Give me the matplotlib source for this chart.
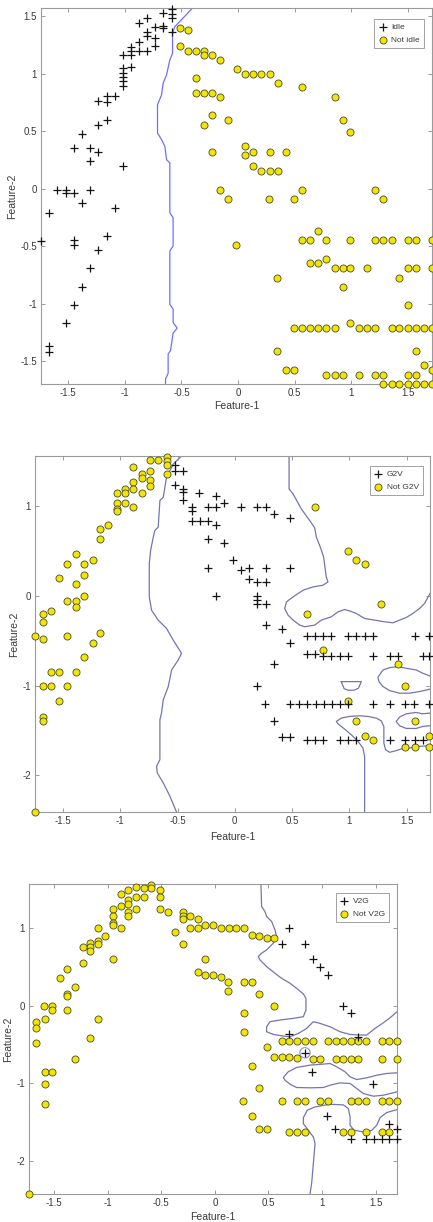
import numpy as np
import matplotlib
matplotlib.use("Agg")
import matplotlib.pyplot as plt

plt.rcParams['font.family'] = ['Liberation Sans', 'DejaVu Sans']

# ---------------- Panel 1 : Idle / Not idle ----------------
idle_pts = [(-0.588,1.558),(-0.588,1.517),(-0.588,1.48),(-0.662,1.523),(-0.809,1.48),(-0.874,1.442),
    (-0.735,1.407),(-0.662,1.413),(-0.662,1.399),(-0.588,1.358),(-0.809,1.358),(-0.809,1.327),(-0.735,1.306),
    (-0.735,1.240),(-0.874,1.277),(-0.947,1.234),(-0.947,1.199),(-0.874,1.199),(-0.809,1.199),(-0.947,1.162),
    (-1.021,1.162),(-0.947,1.061),(-1.021,1.046),(-1.021,1.009),(-1.021,0.968),(-1.021,0.931),(-1.021,0.893),
    (-1.091,0.801),(-1.162,0.801),(-1.162,0.749),(-1.235,0.757),(-1.162,0.598),(-1.235,0.555),(-1.382,0.474),
    (-1.453,0.355),(-1.306,0.355),(-1.235,0.315),(-1.306,0.237),(-1.021,0.194),
    (-1.597,-0.009),(-1.524,-0.009),(-1.524,-0.043),(-1.45,-0.043),(-1.309,-0.009),(-1.379,-0.130),
    (-1.091,-0.173),(-1.668,-0.211),(-1.741,-0.457),(-1.45,-0.451),(-1.45,-0.491),(-1.162,-0.413),
    (-1.235,-0.535),(-1.309,-0.694),(-1.379,-0.853),(-1.45,-1.014),(-1.524,-1.173),(-1.668,-1.367),(-1.668,-1.419)]
not_idle_pts = [(-0.515,1.399),(-0.441,1.379),(-0.515,1.240),(-0.441,1.199),(-0.368,1.199),(-0.300,1.199),
    (-0.300,1.162),(-0.226,1.162),(-0.156,1.118),(-0.012,1.038),(0.062,0.997),(0.132,0.997),(0.206,0.997),
    (0.279,0.997),(0.350,0.916),(0.565,0.879),(0.853,0.795),(0.926,0.598),(0.994,0.494),(-0.368,0.957),
    (-0.368,0.835),(-0.300,0.835),(-0.226,0.835),(-0.156,0.795),(-0.226,0.636),(-0.300,0.555),(-0.085,0.598),
    (0.062,0.373),(0.062,0.295),(0.132,0.315),(0.279,0.315),(0.421,0.315),(-0.226,0.315),(0.132,0.194),
    (0.206,0.150),(0.279,0.150),(0.350,0.150),
    (-0.156,-0.009),(-0.085,-0.090),(0.274,-0.090),(0.491,-0.090),(0.565,-0.009),(1.212,-0.009),(1.285,-0.090),
    (-0.015,-0.491),(0.706,-0.370),
    (0.565,-0.451),(0.638,-0.451),(0.779,-0.451),(0.994,-0.451),(1.212,-0.451),(1.285,-0.451),(1.359,-0.451),
    (1.500,-0.451),(1.574,-0.451),(1.712,-0.451),
    (0.638,-0.650),(0.706,-0.650),(0.779,-0.610),
    (0.853,-0.694),(0.926,-0.694),(0.994,-0.694),(1.141,-0.694),(1.500,-0.694),(1.574,-0.694),(1.712,-0.694),
    (0.344,-0.775),(1.426,-0.775),(0.926,-0.853),(1.500,-1.014),(0.994,-1.173),
    (0.491,-1.214),(0.565,-1.214),(0.638,-1.214),(0.706,-1.214),(0.779,-1.214),(0.853,-1.214),(1.068,-1.214),
    (1.141,-1.214),(1.212,-1.214),(1.359,-1.214),(1.426,-1.214),(1.500,-1.214),(1.574,-1.214),(1.647,-1.214),
    (1.712,-1.214),
    (0.344,-1.416),(1.574,-1.416),(0.421,-1.575),(0.491,-1.575),(1.647,-1.535),(1.712,-1.575),
    (0.779,-1.618),(0.853,-1.618),(0.926,-1.618),(1.068,-1.618),(1.212,-1.618),(1.285,-1.618),(1.500,-1.618),
    (1.574,-1.618),
    (1.285,-1.697),(1.359,-1.697),(1.426,-1.697),(1.500,-1.697),(1.574,-1.697),(1.647,-1.697),(1.712,-1.697)]
idle_boundary = [(-0.397,1.575),(-0.559,1.407),(-0.579,1.350),(-0.579,1.176),(-0.603,1.118),(-0.632,0.988),
    (-0.662,0.916),(-0.676,0.815),(-0.712,0.728),(-0.712,0.483),(-0.676,0.425),(-0.647,0.367),(-0.632,0.251),
    (-0.603,0.223),(-0.603,-0.211),(-0.574,-0.254),(-0.574,-0.5),(-0.603,-0.543),(-0.603,-1.006),(-0.574,-1.049),
    (-0.574,-1.165),(-0.538,-1.214),(-0.574,-1.257),(-0.597,-1.410),(-0.618,-1.439),(-0.618,-1.607),
    (-0.641,-1.656),(-0.641,-1.70)]

# ---------------- Panel 2 : G2V / Not G2V ----------------
g2v_pts = [(-0.523,1.463),(-0.523,1.389),(-0.456,1.389),(-0.523,1.237),(-0.451,1.193),(-0.451,1.156),
    (-0.451,1.070),(-0.311,1.144),(-0.166,1.119),(-0.378,0.989),(-0.378,0.944),(-0.233,0.996),(-0.160,0.996),
    (-0.093,1.033),(0.052,0.996),(0.198,0.996),(0.270,0.996),(0.340,0.915),(0.485,0.870),(-0.378,0.833),
    (-0.305,0.833),(-0.233,0.833),(-0.166,0.796),(-0.233,0.630),(-0.093,0.589),(-0.020,0.396),(0.052,0.293),
    (0.125,0.315),(0.270,0.315),(0.485,0.315),(-0.233,0.315),(0.125,0.193),(0.198,0.156),(0.270,0.156),
    (-0.166,0.000),(0.198,0.000),(0.198,-0.041),(0.198,-0.085),(0.270,-0.085),(0.270,-0.326),(0.416,-0.370),
    (0.631,-0.444),(0.698,-0.444),(0.770,-0.444),(0.843,-0.444),(0.988,-0.444),(1.061,-0.444),(1.134,-0.444),
    (1.206,-0.444),(1.570,-0.444),(1.700,-0.444),
    (0.485,-0.530),(0.340,-0.763),
    (0.631,-0.645),(0.698,-0.645),(0.770,-0.675),(0.843,-0.675),(0.916,-0.675),(0.988,-0.675),(1.206,-0.675),
    (1.352,-0.675),(1.424,-0.675),(1.643,-0.675),(1.700,-0.675),
    (0.195,-1.004),
    (0.267,-1.204),(0.485,-1.204),(0.558,-1.204),(0.631,-1.204),(0.705,-1.204),(0.777,-1.204),(0.848,-1.204),
    (0.916,-1.204),(0.988,-1.204),(1.206,-1.204),(1.352,-1.204),(1.491,-1.204),(1.564,-1.204),(1.700,-1.204),
    (0.340,-1.400),(0.416,-1.574),(0.485,-1.574),
    (0.631,-1.604),(0.698,-1.604),(0.770,-1.604),(0.916,-1.604),(0.988,-1.604),(1.061,-1.604),(1.352,-1.604),
    (1.491,-1.604),(1.570,-1.604),(1.643,-1.604)]
not_g2v_pts = [(-0.596,1.552),(-0.596,1.507),(-0.596,1.463),(-0.596,1.359),(-0.669,1.515),(-0.741,1.515),
    (-0.741,1.396),(-0.814,1.359),(-0.814,1.315),(-0.887,1.433),(-0.741,1.293),(-0.741,1.230),(-0.887,1.267),
    (-0.887,1.193),(-0.959,1.193),(-0.959,1.144),(-0.814,1.148),(-1.032,1.148),(-1.032,1.033),(-1.032,0.970),
    (-1.032,0.944),(-0.959,1.033),(-0.887,0.989),(-1.105,0.793),(-1.177,0.748),(-1.177,0.630),(-1.241,0.396),
    (-1.387,0.470),(-1.462,0.352),(-1.317,0.352),(-1.387,0.130),(-1.317,0.230),(-1.532,0.200),(-1.317,0.000),
    (-1.462,-0.056),(-1.387,-0.056),(-1.387,-0.122),(-1.677,-0.204),(-1.677,-0.289),(-1.605,-0.167),
    (-1.745,-0.448),(-1.677,-0.485),(-1.462,-0.448),(-1.177,-0.411),(-1.241,-0.530),(-1.317,-0.685),
    (-1.605,-0.844),(-1.532,-0.844),(-1.387,-0.844),(-1.677,-1.004),(-1.605,-1.004),(-1.462,-1.004),
    (-1.532,-1.167),(-1.677,-1.355),(-1.677,-1.400),(-1.745,-2.41),
    (0.698,0.996),(0.988,0.496),(1.061,0.396),(1.134,0.352),(1.279,-0.085),(0.631,-0.204),(0.770,-0.604),
    (1.424,-0.763),(1.491,-1.004),(0.988,-1.167),(1.061,-1.400),(1.134,-1.567),(1.206,-1.604),(1.570,-1.400),
    (1.700,-1.567),(1.491,-1.685),(1.570,-1.685),(1.700,-1.685)]
g2v_boundaries = [
    [(-0.465,1.56),(-0.538,1.470),(-0.596,1.322),(-0.625,1.1),(-0.654,1.063),(-0.669,0.767),(-0.698,0.730),
     (-0.712,0.656),(-0.735,0.507),(-0.747,0.359),(-0.747,-0.011),(-0.727,-0.159),(-0.669,-0.270),
     (-0.596,-0.363),(-0.538,-0.493),(-0.465,-0.641),(-0.494,-0.715),(-0.552,-0.826),(-0.581,-1.011),
     (-0.625,-1.159),(-0.640,-1.307),(-0.654,-1.381),(-0.654,-1.826),(-0.683,-1.9),(-0.677,-1.974),
     (-0.625,-2.085),(-0.567,-2.233),(-0.509,-2.41)],
    [(0.474,1.56),(0.474,1.193),(0.509,1.137),(0.581,0.970),(0.654,0.841),(0.698,0.759),(0.712,0.656),
     (0.747,0.544),(0.776,0.433),(0.799,0.211),(0.814,0.156),(0.770,0.119),(0.683,0.1),(0.596,0.063),
     (0.509,-0.011),(0.451,-0.067),(0.436,-0.141),(0.465,-0.215),(0.509,-0.270),(0.567,-0.326),(0.610,-0.344),
     (0.698,-0.326),(0.756,-0.270),(0.843,-0.233),(0.901,-0.178),(0.959,-0.152),(1.003,-0.167),(1.061,-0.196),
     (1.134,-0.252),(1.221,-0.270),(1.308,-0.289),(1.381,-0.3),(1.439,-0.270),(1.497,-0.241),(1.555,-0.196),
     (1.613,-0.141),(1.657,-0.085),(1.705,0.026)],
    [(1.705,-0.893),(1.642,-0.863),(1.584,-0.826),(1.497,-0.807),(1.424,-0.789),(1.352,-0.8),(1.294,-0.826),
     (1.25,-0.907),(1.259,-0.956),(1.294,-1.011),(1.352,-1.056),(1.439,-1.085),(1.526,-1.085),(1.613,-1.067),
     (1.705,-1.04)],
    [(0.93,-0.956),(1.105,-0.956),(1.08,-1.03),(1.04,-1.052),(0.99,-1.052),(0.955,-1.035),(0.93,-0.956)],
    [(1.134,-2.41),(1.134,-1.789),(1.119,-1.696),(1.076,-1.622),(1.017,-1.548),(0.959,-1.485),(0.901,-1.426),
     (0.887,-1.4),(0.930,-1.363),(1.003,-1.344),(1.090,-1.337),(1.163,-1.344),(1.235,-1.363),(1.279,-1.393),
     (1.302,-1.456),(1.302,-1.641),(1.317,-1.715),(1.352,-1.744),(1.410,-1.726),(1.453,-1.707),(1.526,-1.696),
     (1.613,-1.678),(1.705,-1.67)],
    [(1.705,-1.307),(1.642,-1.315),(1.584,-1.3),(1.497,-1.315),(1.439,-1.352),(1.410,-1.4),(1.439,-1.448),
     (1.497,-1.478),(1.584,-1.478),(1.642,-1.456),(1.705,-1.448)]]

# ---------------- Panel 3 : V2G / Not V2G ----------------
v2g_pts = [(0.695,1.000),(0.623,0.793),(0.841,0.793),(0.913,0.599),(0.981,0.496),(1.059,0.397),
    (1.199,-0.004),(1.268,-0.091),(0.695,-0.371),(1.340,-0.400),(0.841,-0.608),(0.907,-0.860),(1.480,-1.017),
    (1.050,-1.418),(1.125,-1.586),(1.629,-1.530),(1.698,-1.586),
    (1.268,-1.716),(1.411,-1.716),(1.486,-1.716),(1.558,-1.716),(1.629,-1.716),(1.698,-1.716)]
not_v2g_pts = [(-0.592,1.560),(-0.592,1.517),(-0.664,1.517),(-0.732,1.530),(-0.810,1.487),(-0.879,1.444),
    (-0.514,1.487),(-0.514,1.401),(-0.664,1.401),(-0.732,1.401),(-0.810,1.358),(-0.810,1.315),(-0.879,1.289),
    (-0.732,1.246),(-0.950,1.246),(-0.810,1.203),(-0.810,1.159),(-0.950,1.159),(-0.514,1.246),(-0.442,1.203),
    (-0.950,1.073),(-0.950,1.043),(-0.879,1.000),(-1.090,1.000),(-1.022,0.901),(-1.090,0.840),(-1.090,0.797),
    (-1.162,0.806),(-1.162,0.763),(-1.162,0.711),(-1.231,0.754),(-1.231,0.556),(-1.377,0.470),(-1.449,0.353),
    (-1.308,0.237),(-1.377,0.151),(-1.377,0.125),(-1.595,-0.004),(-1.517,-0.004),(-1.517,-0.056),
    (-1.377,-0.056),(-0.950,0.599),
    (-0.302,1.203),(-0.302,1.159),(-0.302,1.116),(-0.234,1.159),(-0.162,1.116),(-0.374,0.957),(-0.234,1.000),
    (-0.162,1.000),(-0.093,1.043),(-0.016,1.043),(0.056,1.000),(-0.302,0.797),(-0.093,0.599),(-0.162,0.440),
    (-0.093,0.397),(-0.016,0.397),(0.056,0.366),
    (0.128,1.000),(0.196,1.000),(0.268,1.000),(0.343,0.914),(0.414,0.901),(0.483,0.879),(0.551,0.879),
    (0.125,0.310),(0.125,0.190),(0.268,0.310),(0.343,0.310),(0.411,0.151),(0.551,-0.004),(0.268,-0.091),
    (0.268,-0.336),(0.483,-0.530),
    (-1.667,-0.216),(-1.667,-0.293),(-1.589,-0.172),(-1.168,-0.414),(-1.090,-0.172),(-1.667,-0.487),
    (-1.305,-0.694),(-1.589,-0.862),(-1.517,-0.862),(-1.589,-1.017),(-1.589,-1.263),(-1.735,-2.43),
    (0.623,-0.457),(0.695,-0.457),(0.769,-0.457),(0.841,-0.457),(0.913,-0.457),(1.059,-0.457),(1.131,-0.457),
    (1.199,-0.457),(1.268,-0.457),(1.340,-0.457),(1.411,-0.457),(1.558,-0.457),(1.629,-0.457),(1.698,-0.457),
    (0.551,-0.659),(0.623,-0.659),(0.695,-0.659),(0.769,-0.672),
    (0.913,-0.694),(0.981,-0.694),(1.131,-0.694),(1.199,-0.694),(1.268,-0.694),(1.340,-0.694),(1.558,-0.694),
    (1.698,-0.694),
    (0.343,-0.780),(0.411,-1.060),(0.265,-1.228),
    (0.623,-1.228),(0.769,-1.228),(0.841,-1.228),(0.981,-1.228),(1.059,-1.228),(1.268,-1.228),(1.340,-1.228),
    (1.411,-1.228),(1.558,-1.228),(1.629,-1.228),(1.698,-1.228),
    (0.343,-1.427),(0.411,-1.586),(0.483,-1.586),
    (0.695,-1.629),(0.769,-1.629),(0.841,-1.629),(1.199,-1.629),(1.268,-1.629),(1.411,-1.629),(1.558,-1.629),
    (1.629,-1.629)]
v2g_boundaries = [
    [(0.430,1.57),(0.436,1.280),(0.467,1.216),(0.483,1.151),(0.530,1.086),(0.561,0.978),(0.576,0.892),
     (0.545,0.806),(0.483,0.720),(0.436,0.677),(0.405,0.634),(0.421,0.591),(0.483,0.504),(0.561,0.418),
     (0.623,0.353),(0.701,0.289),(0.763,0.224),(0.826,0.151),(0.850,0.095),(0.850,-0.056),(0.826,-0.142),
     (0.732,-0.164),(0.607,-0.185),(0.514,-0.207),(0.483,-0.272),(0.483,-0.336),(0.545,-0.371),(0.639,-0.392),
     (0.701,-0.401),(0.779,-0.358),(0.857,-0.293),(0.919,-0.207),(0.981,-0.228),(1.075,-0.272),(1.168,-0.336),
     (1.262,-0.371),(1.355,-0.379),(1.417,-0.379),(1.495,-0.293),(1.573,-0.220),(1.636,-0.155),(1.70,-0.078)],
    [(1.70,-0.866),(1.604,-0.875),(1.511,-0.897),(1.417,-0.931),(1.324,-0.953),(1.262,-0.918),(1.215,-0.853),
     (1.137,-0.789),(1.075,-0.746),(1.012,-0.754),(0.888,-0.767),(0.763,-0.797),(0.685,-0.853),(0.639,-0.927),
     (0.654,-0.961),(0.701,-1.013),(0.763,-1.056),(0.888,-1.060),(1.012,-1.056),(1.075,-1.026),(1.168,-0.996),
     (1.262,-1.004),(1.324,-1.069),(1.386,-1.134),(1.480,-1.168),(1.573,-1.155),(1.636,-1.134),(1.70,-1.112)],
    [(0.888,-2.43),(0.903,-2.297),(0.919,-2.039),(0.935,-1.780),(0.919,-1.694),(0.872,-1.608),(0.826,-1.522),
     (0.826,-1.444),(0.863,-1.349),(0.935,-1.306),(1.075,-1.272),(1.199,-1.280),(1.246,-1.328),(1.262,-1.435),
     (1.262,-1.543),(1.299,-1.608),(1.386,-1.629),(1.464,-1.608),(1.511,-1.543),(1.542,-1.444),(1.604,-1.379),
     (1.70,-1.341)]]
v2g_ring = [(0.841,-0.608)]

xticks = [-1.5, -1, -0.5, 0, 0.5, 1, 1.5]
xticklabels = ['-1.5', '-1', '-0.5', '0', '0.5', '1', '1.5']
p1_yticks = [-1.5, -1, -0.5, 0, 0.5, 1, 1.5]
p1_yticklabels = ['-1.5', '-1', '-0.5', '0', '0.5', '1', '1.5']
p23_yticks = [-2, -1, 0, 1]
p23_yticklabels = ['-2', '-1', '0', '1']

W, H = 433, 1222
fig = plt.figure(figsize=(W / 100, H / 100), dpi=100)
fig.patch.set_facecolor('white')

def px_axes(l, r, t, b):
    return fig.add_axes([l / W, 1 - b / H, (r - l) / W, (b - t) / H])

TXT = '#3a3a3a'
YEL = '#f2e600'

def style(ax, xlim, ylim, yt, ytl, xlab_pad):
    ax.set_xlim(*xlim)
    ax.set_ylim(*ylim)
    ax.set_xticks(xticks)
    ax.set_xticklabels(xticklabels)
    ax.set_yticks(yt)
    ax.set_yticklabels(ytl)
    ax.tick_params(direction='in', top=True, right=True, length=3, width=0.6,
                   color='#8a8a8a', labelcolor=TXT, labelsize=7, pad=3)
    for s in ax.spines.values():
        s.set_color('#9a9a9a')
        s.set_linewidth(0.8)
    ax.set_xlabel('Feature-1', fontsize=7.5, color=TXT, labelpad=xlab_pad)
    ax.set_ylabel('Feature-2', fontsize=7.5, color=TXT, labelpad=2)

def draw(ax, crosses, circles, lines, lcolor, labels, anchor):
    for ln in lines:
        a = np.array(ln)
        ax.plot(a[:, 0], a[:, 1], color=lcolor, lw=0.9, zorder=1)
    c = np.array(circles)
    h2 = ax.scatter(c[:, 0], c[:, 1], s=26, marker='o', facecolor=YEL, edgecolor='#4a4a2a',
                    linewidths=0.6, clip_on=False, zorder=3)
    p = np.array(crosses)
    h1 = ax.scatter(p[:, 0], p[:, 1], s=30, marker='+', color='#151515', linewidths=0.9,
                    clip_on=False, zorder=4)
    leg = ax.legend([h1, h2], labels, loc='upper right', bbox_to_anchor=anchor, fontsize=6,
                    frameon=True, fancybox=False, edgecolor='#8a8a8a', borderaxespad=0,
                    handlelength=1.0, handletextpad=0.5, borderpad=0.5, labelspacing=0.6)
    leg.get_frame().set_linewidth(0.7)
    for t in leg.get_texts():
        t.set_color(TXT)

ax1 = px_axes(41, 432, 8, 384)
style(ax1, (-1.742, 1.715), (-1.70, 1.57), p1_yticks, p1_yticklabels, 2)
draw(ax1, idle_pts, not_idle_pts, [idle_boundary], '#6f6fff', ['Idle', 'Not idle'], (0.979, 0.971))

ax2 = px_axes(35, 430, 456, 812)
style(ax2, (-1.745, 1.705), (-2.41, 1.56), p23_yticks, p23_yticklabels, 4)
draw(ax2, g2v_pts, not_g2v_pts, g2v_boundaries, '#7474b4', ['G2V', 'Not G2V'], (0.982, 0.972))

ax3 = px_axes(29, 397, 884, 1194)
style(ax3, (-1.735, 1.70), (-2.43, 1.57), p23_yticks, p23_yticklabels, 3)
draw(ax3, v2g_pts, not_v2g_pts, v2g_boundaries, '#7474b4', ['V2G', 'Not V2G'], (0.978, 0.971))
r = np.array(v2g_ring)
ax3.scatter(r[:, 0], r[:, 1], s=55, marker='o', facecolor='none', edgecolor='#9090c8',
            linewidths=0.8, zorder=2)

fig.savefig('out.png', dpi=100, facecolor='white')
